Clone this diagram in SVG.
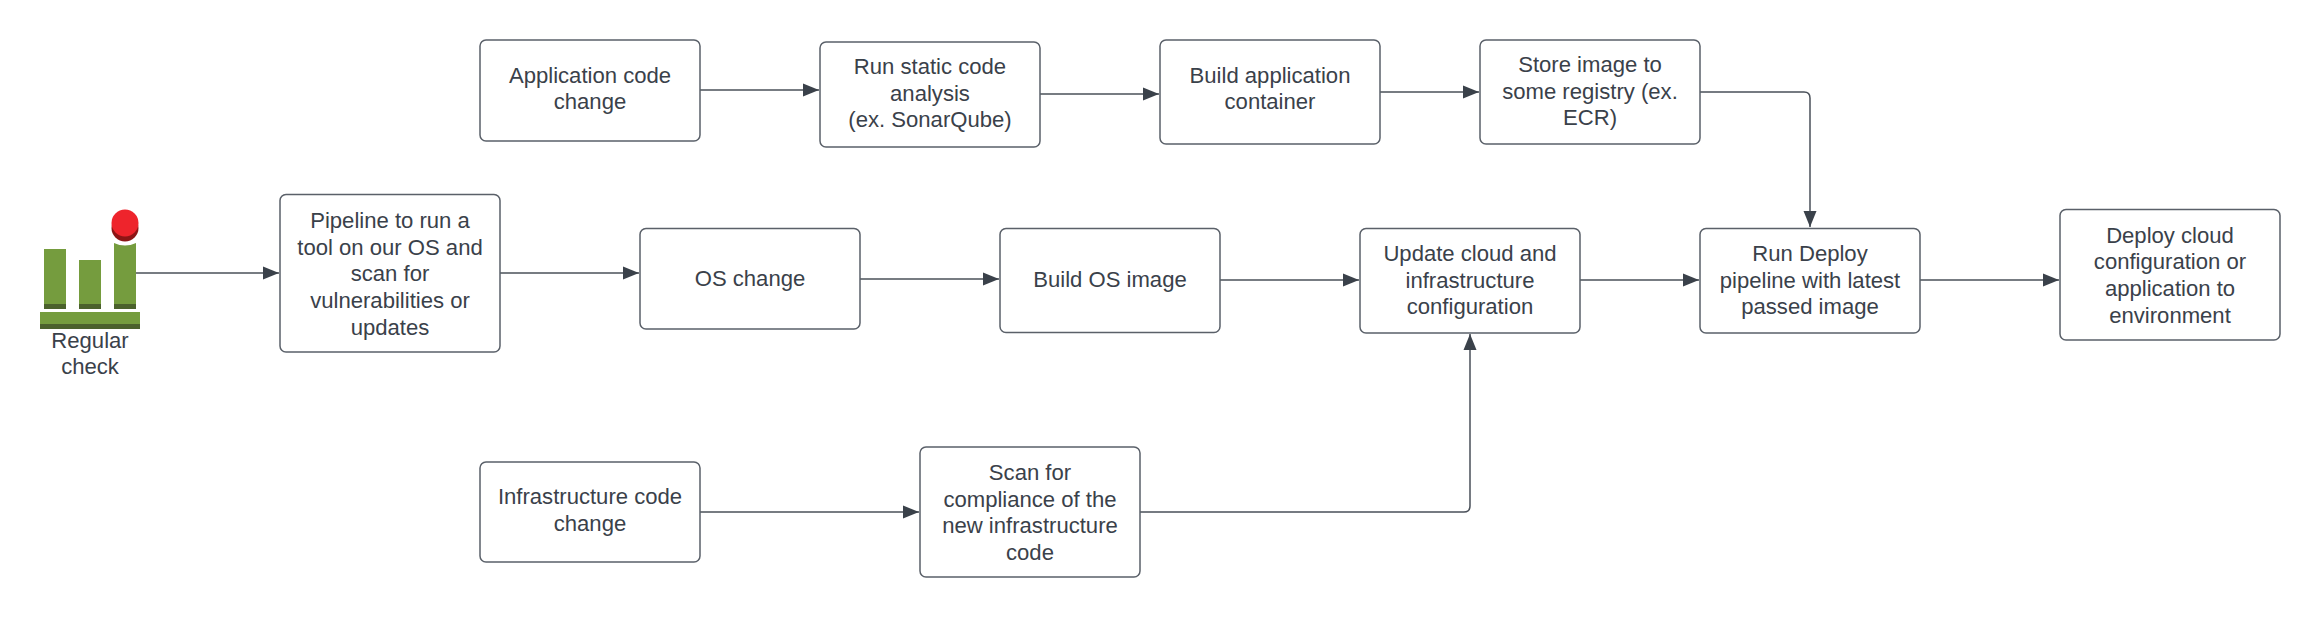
<svg xmlns="http://www.w3.org/2000/svg" width="2320" height="617" viewBox="0 0 2320 617">
<style>
.b{fill:#fff;stroke:#5a6069;stroke-width:1.5}
text{font-family:"Liberation Sans",Arial,sans-serif;font-size:22.1px;fill:#3a414a;text-anchor:middle}
.c{fill:none;stroke:#4a5059;stroke-width:1.5;marker-end:url(#a)}
</style>
<defs><marker id="a" markerUnits="userSpaceOnUse" markerWidth="17" markerHeight="14" refX="16" refY="7" orient="auto"><path d="M0 0.5L16 7L0 13.5Z" fill="#3a414a"/></marker></defs>
<rect width="2320" height="617" fill="#fff"/>
<g id="connectors">
<path class="c" d="M136 273H279"/>
<path class="c" d="M700 90H819"/>
<path class="c" d="M1040 94H1159"/>
<path class="c" d="M1380 92H1479"/>
<path class="c" d="M1700 92H1804Q1810 92 1810 98V227"/>
<path class="c" d="M500 273H639"/>
<path class="c" d="M860 279H999"/>
<path class="c" d="M1220 280H1359"/>
<path class="c" d="M1580 280H1699"/>
<path class="c" d="M1920 280H2059"/>
<path class="c" d="M700 512H919"/>
<path class="c" d="M1140 512H1464Q1470 512 1470 506V334"/>
</g>
<g id="regular-check">
<rect x="44" y="249" width="22" height="60" fill="#759c3e"/><rect x="44" y="304" width="22" height="5" fill="#4b612c"/>
<rect x="79" y="260" width="22" height="49" fill="#759c3e"/><rect x="79" y="304" width="22" height="5" fill="#4b612c"/>
<path d="M114 243Q125 248 136 243V309H114Z" fill="#759c3e"/><rect x="114" y="304" width="22" height="5" fill="#4b612c"/>
<rect x="40" y="312" width="100" height="17" fill="#759c3e"/><rect x="40" y="324" width="100" height="5" fill="#4b612c"/>
<ellipse cx="125" cy="228" rx="13.5" ry="13.5" fill="#8c1515"/><ellipse cx="125" cy="223" rx="13.5" ry="13.5" fill="#ee242c"/>
<text x="90" y="348">Regular</text><text x="90" y="374">check</text>
</g>
<g id="app-change"><rect class="b" x="480" y="40" width="220" height="101" rx="6"/><text x="590" y="83">Application code</text><text x="590" y="109">change</text></g>
<g id="static-analysis"><rect class="b" x="820" y="42" width="220" height="105" rx="6"/><text x="930" y="74">Run static code</text><text x="930" y="100.7">analysis</text><text x="930" y="127.3">(ex. SonarQube)</text></g>
<g id="build-app"><rect class="b" x="1160" y="40" width="220" height="104" rx="6"/><text x="1270" y="83">Build application</text><text x="1270" y="109">container</text></g>
<g id="store-image"><rect class="b" x="1480" y="40" width="220" height="104" rx="6"/><text x="1590" y="72">Store image to</text><text x="1590" y="98.7">some registry (ex.</text><text x="1590" y="125.3">ECR)</text></g>
<g id="pipeline-scan"><rect class="b" x="280" y="194.5" width="220" height="157.5" rx="6"/><text x="390" y="228">Pipeline to run a</text><text x="390" y="254.7">tool on our OS and</text><text x="390" y="281.4">scan for</text><text x="390" y="308">vulnerabilities or</text><text x="390" y="334.7">updates</text></g>
<g id="os-change"><rect class="b" x="640" y="228.5" width="220" height="100.5" rx="6"/><text x="750" y="286">OS change</text></g>
<g id="build-os"><rect class="b" x="1000" y="228.5" width="220" height="104" rx="6"/><text x="1110" y="287">Build OS image</text></g>
<g id="update-config"><rect class="b" x="1360" y="228.5" width="220" height="104.5" rx="6"/><text x="1470" y="261">Update cloud and</text><text x="1470" y="287.7">infrastructure</text><text x="1470" y="314.3">configuration</text></g>
<g id="run-deploy"><rect class="b" x="1700" y="228.5" width="220" height="104.5" rx="6"/><text x="1810" y="261">Run Deploy</text><text x="1810" y="287.7">pipeline with latest</text><text x="1810" y="314.3">passed image</text></g>
<g id="deploy-env"><rect class="b" x="2060" y="209.5" width="220" height="130.5" rx="6"/><text x="2170" y="242.7">Deploy cloud</text><text x="2170" y="269.3">configuration or</text><text x="2170" y="296">application to</text><text x="2170" y="322.7">environment</text></g>
<g id="infra-change"><rect class="b" x="480" y="462" width="220" height="100" rx="6"/><text x="590" y="504">Infrastructure code</text><text x="590" y="531">change</text></g>
<g id="compliance-scan"><rect class="b" x="920" y="447" width="220" height="130" rx="6"/><text x="1030" y="480">Scan for</text><text x="1030" y="506.7">compliance of the</text><text x="1030" y="533.3">new infrastructure</text><text x="1030" y="560">code</text></g>
</svg>
